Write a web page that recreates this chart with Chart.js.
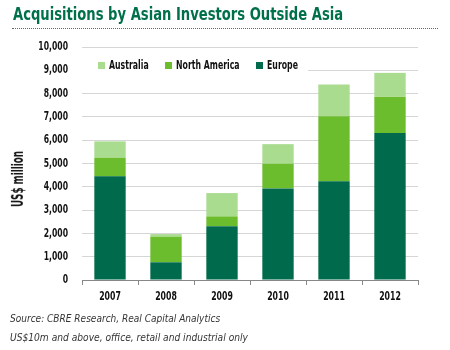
<!DOCTYPE html>
<html>
<head>
<meta charset="utf-8">
<script src="https://cdn.jsdelivr.net/npm/chart.js@4/dist/chart.umd.min.js"></script>
<style>
  html, body { margin:0; padding:0; background:#fff; }
  #wrap { position:relative; width:450px; height:350px; overflow:hidden; }
  #title { position:absolute; left:13px; top:3px; font-family:"DejaVu Sans",sans-serif; font-weight:bold; font-size:18px; color:#00704a; white-space:nowrap; transform-origin:0 0; }
  #rule { position:absolute; left:12px; top:28px; width:426px; border-top:1px dotted #666; }
  #ytitle { position:absolute; left:0; top:0; font-family:"DejaVu Sans",sans-serif; font-weight:bold; font-size:15px; color:#111; white-space:nowrap; }
  .note { position:absolute; left:10px; font-family:"DejaVu Sans",sans-serif; font-style:italic; font-size:10px; color:#333; white-space:nowrap; transform-origin:0 0; }
  #c { position:absolute; left:0; top:0; }
</style>
</head>
<body>
<div id="wrap">
  <canvas id="c" width="450" height="350"></canvas>
  <div id="title">Acquisitions by Asian Investors Outside Asia</div>
  <div id="rule"></div>
  <div id="ytitle">US$ million</div>
  <div class="note" id="n1" style="top:313px">Source: CBRE Research, Real Capital Analytics</div>
  <div class="note" id="n2" style="top:332px">US$10m and above, office, retail and industrial only</div>
</div>
<script>
/* ----------------- Data ----------------- */
const years = ["2007", "2008", "2009", "2010", "2011", "2012"];
const europe = [4450, 760, 2310, 3930, 4240, 6310];
const northAmerica = [800, 1100, 420, 1060, 2790, 1560];
const australia = [700, 110, 1000, 840, 1360, 1020];
const yTicks = [0, 1000, 2000, 3000, 4000, 5000, 6000, 7000, 8000, 9000, 10000];

const C_EUR = "#006b4c", C_NA = "#6cbd2d", C_AUS = "#a9dc8f";
const FAM = '"DejaVu Sans",sans-serif';

/* ----------------- Helpers ----------------- */
// squeeze html text to the width it has in the reference (condensed face look)
function fitWidth(id, w) {
  const el = document.getElementById(id);
  el.style.transform = 'scaleX(' + (w / el.offsetWidth) + ')';
}
fitWidth('title', 330);
fitWidth('n1', 210);
fitWidth('n2', 238);
(() => {
  const el = document.getElementById('ytitle');
  const s = 56 / el.offsetWidth, w = el.offsetWidth, h = el.offsetHeight;
  el.style.left = (18 - w / 2) + 'px';
  el.style.top = (179 - h / 2) + 'px';
  el.style.transform = 'rotate(-90deg) scaleX(' + s + ')';
})();

// canvas text squeezed horizontally
function squeezed(ctx, txt, x, y, sx) {
  ctx.fillText(txt, x, y, ctx.measureText(txt).width * sx);
}

/* ----------------- Legend + condensed tick labels ----------------- */
const legendBox = {
  id: 'legendBox',
  beforeDatasetsDraw(chart) {
    const { ctx, chartArea } = chart;
    ctx.save();
    ctx.fillStyle = '#fff';
    ctx.fillRect(chartArea.left, 58, 308 - chartArea.left, 17);
    const items = [[98, C_AUS, 'Australia'], [165, C_NA, 'North America'], [256, C_EUR, 'Europe']];
    ctx.font = 'bold 13px ' + FAM;
    ctx.textBaseline = 'middle';
    ctx.textAlign = 'left';
    items.forEach(([x, col, txt]) => {
      ctx.fillStyle = col;
      ctx.fillRect(x, 62, 7, 7);
      ctx.fillStyle = '#111';
      squeezed(ctx, txt, x + 11, 66, 0.6);
    });
    ctx.restore();
  },
  afterDraw(chart) {
    const { ctx } = chart;
    const sx = chart.scales.x, sy = chart.scales.y;
    ctx.save();
    ctx.fillStyle = '#111';
    ctx.textBaseline = 'middle';
    ctx.font = 'bold 13px ' + FAM;
    ctx.textAlign = 'center';
    sx.ticks.forEach((t, i) => squeezed(ctx, String(sx.getLabelForValue(t.value)), sx.getPixelForTick(i), 297, 0.6));
    ctx.font = 'bold 12px ' + FAM;
    ctx.textAlign = 'right';
    sy.ticks.forEach(t => squeezed(ctx, t.value.toLocaleString('en-US'), 68, sy.getPixelForValue(t.value), 0.64));
    ctx.restore();
  }
};

/* ----------------- Chart ----------------- */
const ds = (label, data, color) => ({ label, data, backgroundColor: color, barPercentage: 0.56, categoryPercentage: 1 });

new Chart(document.getElementById('c'), {
  type: 'bar',
  data: {
    labels: years,
    datasets: [ds('Europe', europe, C_EUR), ds('North America', northAmerica, C_NA), ds('Australia', australia, C_AUS)]
  },
  options: {
    responsive: false, animation: false,
    layout: { padding: { top: 47, right: 32, left: 0, bottom: 0 } },
    plugins: { legend: { display: false }, tooltip: { enabled: false } },
    scales: {
      x: {
        stacked: true,
        afterFit: s => { s.height = 70; },
        grid: { drawOnChartArea: false, drawTicks: true, tickLength: 5, color: '#888', offset: true },
        border: { display: true, color: '#888', width: 1 },
        ticks: { display: false }
      },
      y: {
        stacked: true, min: 0, max: 10000,
        afterFit: s => { s.width = 82; },
        afterBuildTicks: s => { s.ticks = yTicks.map(v => ({ value: v })); },
        grid: { color: '#d6d6d6', drawTicks: false },
        border: { display: false },
        ticks: { display: false }
      }
    }
  },
  plugins: [legendBox]
});
</script>
</body>
</html>
